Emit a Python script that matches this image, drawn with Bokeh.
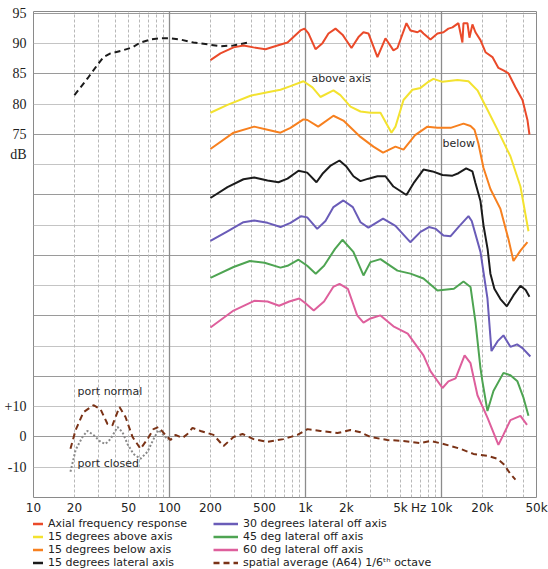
from bokeh.plotting import figure
from bokeh.layouts import column
from bokeh.models import (Range1d, FixedTicker, Grid, Legend, LegendItem, Label)
from bokeh.embed import file_html
from bokeh.resources import INLINE

# ---------------- data ----------------
# low-frequency axial response (black dashed, absolute dB)
lf_f = [20, 25.4, 29.5, 32.7, 36.8, 43.6, 53.5, 61, 72.4, 86, 100, 120, 150, 190, 237, 295, 375]
lf_db = [81.5, 84.5, 86.5, 87.8, 88.4, 88.8, 89.4, 90.2, 90.7, 90.9, 90.9, 90.7, 90.2, 89.9, 89.6, 89.7, 90.2]

# Axial frequency response (red)
red_f = [200, 237, 296, 350, 415, 508, 622, 738, 816, 919, 984, 1052, 1185, 1334, 1476, 1663, 1872, 2180,
         2454, 2670, 2904, 3383, 3874, 4434, 4745, 5529, 5916, 6663, 7012, 7375, 8303, 9347, 10350, 11250,
         12050, 13330, 14260, 14520, 15530, 16070, 16900, 17780, 19360, 21080, 23710, 26240, 28570, 31110,
         35010, 39440, 42890, 44370]
red_db = [87.3, 88.4, 89.4, 89.7, 89.4, 89.1, 89.7, 90.2, 91.1, 92.2, 92.5, 91.7, 89.1, 90.1, 91.7, 92.5, 91.5, 89.3,
          91.1, 91.9, 91.7, 87.8, 90.9, 88.9, 89.3, 93.4, 92.2, 91.9, 92.2, 91.7, 90.7, 91.7, 91.9, 92.5,
          92.7, 93.4, 90.2, 93.4, 93.4, 91.0, 93.2, 91.9, 90.6, 88.6, 87.8, 86.0, 85.6, 85.1,
          82.8, 80.7, 77.4, 75.0]

# 15 degrees above axis (yellow)
yel_f = [200, 267, 394, 526, 655, 776, 966, 1125, 1288, 1606, 1806, 2143, 2537, 3006, 3560, 4290, 4590, 5260,
         6120, 7012, 7890, 8730, 10170, 13120, 15800, 18400, 21790, 25820, 32150, 38100, 43650]
yel_db = [78.6, 79.9, 81.4, 82.0, 82.4, 83.0, 83.8, 82.8, 81.2, 82.3, 81.5, 79.6, 78.8, 78.6, 78.6, 75.3, 76.3, 80.7,
          82.4, 82.7, 83.6, 84.2, 83.7, 84.0, 83.8, 82.3, 79.1, 75.8, 71.4, 66.4, 59.0]

# 15 degrees below axis (orange)
ora_f = [200, 296, 420, 526, 655, 776, 966, 1034, 1240, 1606, 1900, 2537, 3160, 3720, 4590, 5260, 6400, 7890,
         9350, 11680, 14530, 16360, 17500, 18690, 20370, 22910, 27150, 31110, 33830, 38100, 42890]
ora_db = [72.6, 75.3, 76.3, 75.8, 75.3, 76.1, 77.5, 77.4, 76.3, 78.1, 77.3, 74.6, 73.0, 72.0, 73.0, 72.5, 74.9, 76.3,
          76.1, 76.1, 76.8, 76.4, 75.8, 73.5, 69.5, 66.0, 62.7, 57.7, 54.1, 55.8, 57.2]

# 15 degrees lateral axis (black)
blk_f = [200, 267, 350, 420, 526, 633, 738, 889, 1030, 1205, 1334, 1520, 1778, 2000, 2254, 2537, 2904, 3383, 3874,
         4434, 5529, 6300, 7375, 8600, 10170, 12050, 13330, 15200, 16900, 17780, 19360, 20370, 21870, 22910,
         24500, 27150, 30270, 33830, 38100, 41630, 44370]
blk_db = [64.5, 66.3, 67.6, 67.9, 67.4, 67.1, 67.7, 69.0, 68.7, 67.1, 68.5, 69.8, 70.7, 69.7, 68.1, 67.3, 67.7, 68.1, 68.1,
          66.4, 65.0, 67.1, 69.2, 68.9, 68.3, 68.2, 68.6, 69.4, 68.9, 67.0, 64.0, 60.0, 56.0, 52.0,
          49.5, 47.8, 46.6, 48.4, 50.0, 49.3, 48.2]

# 30 degrees lateral off axis (purple)
pur_f = [200, 267, 350, 420, 526, 655, 776, 930, 1030, 1220, 1403, 1606, 1900, 2230, 2540, 2900, 3720, 4590,
         5900, 7012, 8100, 9100, 10350, 11680, 13330, 15800, 16700, 19360, 21790, 23330, 25820, 28570, 32150,
         36000, 39440, 45080]
pur_db = [57.4, 59.0, 60.5, 60.8, 60.4, 59.7, 60.4, 61.5, 61.3, 59.4, 60.7, 63.0, 64.1, 63.0, 60.5, 59.6, 61.1, 59.9,
          57.2, 58.9, 59.7, 59.4, 58.3, 58.2, 59.7, 61.5, 60.7, 55.6, 47.9, 39.2, 40.8, 41.8, 39.9,
          40.3, 39.7, 38.3]

# 45 deg lateral off axis (green)
grn_f = [200, 296, 390, 500, 655, 738, 889, 1030, 1190, 1370, 1650, 1870, 2250, 2670, 3006, 3560, 4745, 5916,
         7375, 9347, 12350, 14520, 16360, 17800, 19360, 20010, 21790, 24120, 28570, 32150, 36200, 40100, 43650]
grn_db = [51.3, 53.1, 54.1, 53.8, 53.0, 53.3, 54.3, 53.3, 52.0, 53.3, 56.1, 57.6, 55.6, 51.7, 53.9, 54.4, 52.5, 52.0,
          51.2, 49.2, 49.5, 50.7, 49.8, 44.0, 36.4, 34.2, 29.3, 32.6, 35.6, 35.2, 34.2, 31.5, 28.5]

# 60 deg lateral off axis (pink)
pnk_f = [200, 296, 420, 526, 640, 760, 900, 1000, 1150, 1370, 1600, 1780, 2050, 2400, 2670, 3006, 3560, 4434,
         5650, 7375, 8300, 10180, 11250, 12700, 14800, 16360, 18400, 21790, 26240, 28570, 32150, 38100, 42580]
pnk_db = [43.1, 45.9, 47.5, 47.4, 46.7, 47.4, 47.9, 47.1, 45.9, 47.4, 49.8, 50.3, 49.5, 45.1, 43.9, 44.6, 45.1, 43.3,
          42.1, 38.5, 35.9, 33.1, 34.2, 34.7, 38.5, 37.2, 31.9, 28.2, 23.7, 25.4, 27.8, 28.5, 27.0]

# spatial average (A64) 1/6 octave, relative dB (lower scale)
avg_f = [18.7, 20.4, 23.3, 27.6, 31.1, 35.0, 38.1, 40.1, 42.9, 47.5, 53.5, 61.2, 68.9, 76.3, 83.0, 93.4, 101.7,
         110.7, 124.7, 135.6, 147.6, 169.1, 210.7, 249.7, 295.7, 344.4, 415, 526, 689, 873, 1035, 1288, 1718,
         2143, 2537, 3006, 4008, 5260, 7012, 8303, 10350, 13800, 17180, 21790, 25820, 28570, 32150, 35010]
avg_rel = [-3.9, 2.3, 8.2, 10.5, 9.2, 4.3, 3.9, 6.6, 9.9, 6.6, 0.0, -3.9, -0.7, 2.6, 3.3, 0.7, -1.0,
           0.7, -0.3, 1.0, 3.0, 2.0, 0.7, -3.0, 0.0, 1.0, -0.7, -1.6, -0.7, 0.7, 2.6, 2.0, 1.3,
           2.3, 1.6, 0.0, -1.0, -1.3, -2.0, -1.3, -2.3, -3.9, -5.6, -6.2, -7.2, -8.9, -12.2, -14.1]

# port closed (grey dotted, relative dB)
pc_f = [18.7, 20.4, 22.9, 24.9, 27.6, 31.1, 33.8, 36.8, 41.5, 45.1, 49.1, 54.3, 61.2, 68.9, 76.3, 83.0, 90.3, 98.4]
pc_rel = [-11.5, -4.3, 0.0, 2.0, 0.7, -1.6, -2.3, -0.7, 3.3, 1.6, -2.3, -5.6, -7.2, -4.9, -0.7, 2.3, 0.7, -1.0]

x_ticks = [10, 20, 50, 100, 200, 500, 1000, 2000, 5000, 6800, 10000, 20000, 50000]
x_labels = ["10", "20", "50", "100", "200", "500", "1k", "2k", "5k", "Hz", "10k", "20k", "50k"]
y_ticks = [20, 25, 30, 71.7, 75, 80, 85, 90, 95]
y_labels = ["-10", "0", "+10", "dB", "75", "80", "85", "90", "95"]

series_labels = ["Axial frequency response", "15 degrees above axis", "15 degrees below axis",
                 "15 degrees lateral axis", "30 degrees lateral off axis", "45 deg lateral off axis",
                 "60 deg lateral off axis", "spatial average (A64) 1/6\u1d57\u02b0 octave"]
colors = ["#ea4a2a", "#f3e22f", "#f7801f", "#1b1b1b", "#6a5cb8", "#4ea452", "#de5f9c", "#7a3216"]
dashes = ["solid"] * 7 + ["6 4"]

# ---------------- main figure ----------------
Y_LO, Y_HI, REL_ZERO = 15, 95.33, 25
p = figure(width=548, height=517, x_axis_type="log",
           x_range=Range1d(10, 50000), y_range=Range1d(Y_LO, Y_HI),
           output_backend="svg", toolbar_location=None,
           min_border_left=33, min_border_right=12, min_border_top=11, min_border_bottom=17)
p.extra_y_ranges = {"rel": Range1d(start=(Y_LO - REL_ZERO) * 2, end=(Y_HI - REL_ZERO) * 2)}
p.background_fill_color = "white"
p.border_fill_color = "white"
p.outline_line_color = "#8a8a8a"
p.outline_line_width = 1

p.xgrid.visible = False
p.ygrid.visible = False

# horizontal grid
p.add_layout(Grid(dimension=1, ticker=FixedTicker(ticks=list(range(20, 95, 10))),
                  grid_line_color="#c4c4c4", grid_line_width=1))
p.add_layout(Grid(dimension=1, ticker=FixedTicker(ticks=list(range(25, 96, 10))),
                  grid_line_color="#9a9a9a", grid_line_width=1))
# vertical grid
minor = [m * d for d in (10, 100, 1000, 10000) for m in range(2, 10) if m * d < 50000]
p.add_layout(Grid(dimension=0, ticker=FixedTicker(ticks=minor),
                  grid_line_color="#b8b8b8", grid_line_width=1, grid_line_dash="3 2"))
p.add_layout(Grid(dimension=0, ticker=FixedTicker(ticks=[100, 1000, 10000]),
                  grid_line_color="#8c8c8c", grid_line_width=1.3))

# axes
p.xaxis.ticker = FixedTicker(ticks=x_ticks)
p.xaxis.major_label_overrides = {t: l for t, l in zip(x_ticks, x_labels)}
p.xaxis.major_label_text_font = "DejaVu Sans"
p.xaxis.major_label_text_font_size = "12px"
p.xaxis.major_label_text_color = "#222222"
p.xaxis.major_label_standoff = 3
p.yaxis.ticker = FixedTicker(ticks=y_ticks)
p.yaxis.major_label_overrides = {t: l for t, l in zip(y_ticks, y_labels)}
p.yaxis.major_label_text_font = "Liberation Serif"
p.yaxis.major_label_text_font_size = "14px"
p.yaxis.major_label_text_color = "#222222"
p.yaxis.major_label_standoff = 7
for ax in (p.xaxis, p.yaxis):
    ax.axis_line_color = None
    ax.major_tick_line_color = None
    ax.minor_tick_line_color = None
    ax.major_tick_out = 0
    ax.major_tick_in = 0
    ax.minor_tick_out = 0
    ax.minor_tick_in = 0

# curves
series = [(red_f, red_db), (yel_f, yel_db), (ora_f, ora_db), (blk_f, blk_db),
          (pur_f, pur_db), (grn_f, grn_db), (pnk_f, pnk_db)]
p.line(lf_f, lf_db, line_color="#1b1b1b", line_width=2, line_dash="6 4")
for (fx, dy), c in zip(series, colors):
    p.line(fx, dy, line_color=c, line_width=2)
p.line(pc_f, pc_rel, y_range_name="rel", line_color="#8a8a8a", line_width=2, line_dash="2 2")
p.line(avg_f, avg_rel, y_range_name="rel", line_color=colors[7], line_width=2, line_dash="6 4")

# annotations
txt = dict(text_font="DejaVu Sans", text_font_size="11px", text_color="#2a2a2a",
           text_baseline="middle", text_align="left")
p.add_layout(Label(x=21.1, y=15.1, y_range_name="rel", text="port normal", **txt))
p.add_layout(Label(x=21.1, y=-8.9, y_range_name="rel", text="port closed", **txt))
p.add_layout(Label(x=1107, y=84.3, text="above axis", **txt))
p.add_layout(Label(x=10170, y=73.5, text="below", **txt))

# ---------------- legend strip ----------------
lg = figure(width=548, height=52, x_range=Range1d(0, 1), y_range=Range1d(0, 1),
            output_backend="svg", toolbar_location=None,
            x_axis_location=None, y_axis_location=None,
            min_border_left=0, min_border_right=0, min_border_top=0, min_border_bottom=0)
lg.outline_line_color = None
lg.xgrid.visible = False
lg.ygrid.visible = False
# legend proxies (same series; they lie outside this strip's ranges, so only their legend glyphs show)
proxies = [lg.line(fx, dy, line_color=c, line_width=2.5, line_dash=d)
           for (fx, dy), c, d in zip(series + [(avg_f, avg_rel)], colors, dashes)]
legend = Legend(items=[LegendItem(label=l, renderers=[r]) for l, r in zip(series_labels, proxies)],
                location=(-15, 0), orientation="vertical", ncols=2,
                margin=0, padding=0, spacing=0, label_height=13, glyph_height=13, glyph_width=25,
                label_standoff=5, label_width=165,
                label_text_font="DejaVu Sans", label_text_font_size="11px", label_text_color="#222222",
                background_fill_alpha=0, border_line_color=None)
lg.add_layout(legend)

layout = column(p, lg, spacing=0)
open("out.html", "w").write(file_html(layout, INLINE))
